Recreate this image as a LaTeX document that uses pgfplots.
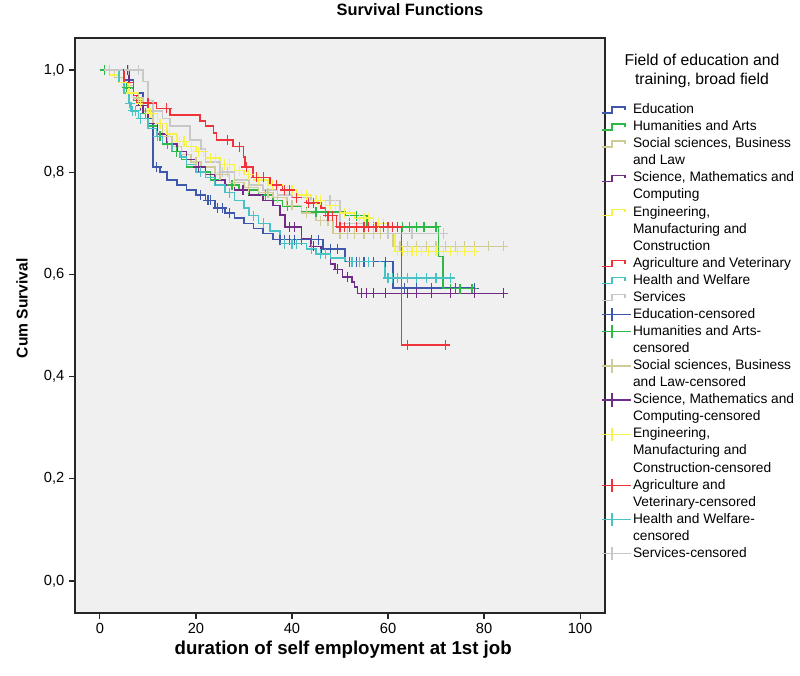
\documentclass[border=0pt]{standalone}
\usepackage{fontspec}
\setmainfont{Liberation Sans}
\usepackage{pgfplots}
\pgfplotsset{compat=1.18}
\definecolor{bgc}{HTML}{F0F0F0}
\definecolor{cEdu}{HTML}{3E58AC}
\definecolor{cHum}{HTML}{2EB848}
\definecolor{cSoc}{HTML}{D0CC98}
\definecolor{cSci}{HTML}{722C88}
\definecolor{cEng}{HTML}{F8F34A}
\definecolor{cAgr}{HTML}{EF3338}
\definecolor{cHea}{HTML}{48C2C5}
\definecolor{cSer}{HTML}{C8C8C8}
\newcommand{\more}[1]{\addlegendimage{empty legend}\addlegendentry{#1}}
\pgfplotsset{
  curve/.style={const plot, color=#1, line width=1.1pt, no marks,
    legend image code/.code={\draw[color=#1, line width=1pt] (0pt,-2.25pt)--(7.5pt,-2.25pt)--(7.5pt,2.25pt)--(17.25pt,2.25pt)--(17.25pt,0pt);}},
  cens/.style={only marks, mark=+, color=#1, mark size=3.8pt, mark options={line width=0.9pt},
    legend image code/.code={\draw[color=#1, line width=1pt] (0pt,0pt)--(22pt,0pt) (7.5pt,-5pt)--(7.5pt,5pt);}},
}
\begin{document}
\begin{tikzpicture}
\useasboundingbox (0,0) rectangle (600pt,506.25pt);
\begin{axis}[
  at={(56.25pt,46.5pt)}, anchor=south west,
  scale only axis, width=397.5pt, height=431.25pt,
  xmin=-5.2, xmax=105.2, ymin=-0.0626, ymax=1.0626,
  axis background/.style={fill=bgc},
  axis line style={line width=0.8pt, black!85},
  xtick={0,20,40,60,80,100}, ytick={0,0.2,0.4,0.6,0.8,1},
  tick align=outside, major tick length=4.5pt,
  tick style={line width=0.8pt, black!85},
  xtick pos=left, ytick pos=left,
  ticklabel style={font=\fontsize{11}{13}\selectfont},
  xticklabel style={/pgf/number format/assume math mode=true},
  yticklabel style={/pgf/number format/.cd, fixed, fixed zerofill, precision=1, use comma, assume math mode=true},
  title={Survival Functions},
  title style={font=\bfseries\fontsize{12.3}{14}\selectfont, at={(axis description cs:0.632,1.035)}, anchor=center},
  xlabel={duration of self employment at 1st job},
  xlabel style={font=\bfseries\fontsize{14}{16}\selectfont, at={(axis description cs:0.506,-0.064)}, anchor=center},
  ylabel={Cum Survival},
  ylabel style={font=\bfseries\fontsize{11.7}{14}\selectfont, at={(axis description cs:-0.1,0.53)}, anchor=center, rotate=0},
  legend cell align=left,
  legend style={at={(axis description cs:0.985,0.8948)}, anchor=north west, draw=none, fill=none,
    font=\fontsize{10.3}{12}\selectfont, row sep=0pt,
    nodes={text height=7.9pt, text depth=2.4pt, inner ysep=1.25pt, inner xsep=0.8pt}},
]
% curves
\addplot[curve=cEdu] coordinates {(0,1)(5,0.98)(7,0.955)(9,0.93)(10,0.905)(11,0.81)(12.5,0.80)(14,0.785)(16,0.775)(18,0.765)(20,0.755)(22,0.745)(24,0.73)(26,0.72)(28,0.71)(30,0.70)(32,0.69)(34,0.68)(36,0.668)(46.5,0.65)(51,0.625)(61,0.573)(78,0.573)};
\addlegendentry{Education}
\addplot[curve=cHum] coordinates {(0,1)(3,0.985)(5,0.965)(7,0.94)(9,0.915)(10,0.89)(12,0.87)(13,0.855)(15,0.84)(17,0.825)(18,0.81)(20,0.80)(23,0.785)(26,0.775)(29,0.765)(33,0.755)(36,0.745)(38,0.733)(42,0.722)(51,0.715)(55.6,0.693)(70.5,0.635)(71.5,0.572)(77.5,0.572)};
\addlegendentry{Humanities and Arts}
\addplot[curve=cSoc] coordinates {(0,1)(3,0.985)(5,0.97)(7,0.945)(9,0.92)(11,0.895)(13,0.87)(15,0.85)(17,0.835)(19,0.82)(21,0.81)(24,0.795)(27,0.78)(30,0.77)(33,0.76)(36,0.75)(39,0.735)(42,0.72)(45,0.705)(48.5,0.68)(61,0.655)(84,0.655)};
\addlegendentry{Social sciences, Business}
\more{and Law}
\addplot[curve=cSci] coordinates {(0,1)(6,0.975)(7,0.95)(8,0.93)(9,0.915)(10,0.895)(12,0.875)(14,0.855)(16,0.84)(18,0.825)(20,0.81)(22,0.795)(24,0.785)(26,0.775)(28,0.765)(31,0.755)(34,0.745)(36,0.735)(37.5,0.716)(38.5,0.693)(42,0.67)(44,0.655)(46,0.64)(48,0.62)(49,0.61)(50.5,0.595)(52.5,0.585)(53,0.575)(53.7,0.563)(84,0.563)};
\addlegendentry{Science, Mathematics and}
\more{Computing}
\addplot[curve=cEng] coordinates {(0,1)(2,0.99)(4,0.975)(6,0.955)(8,0.935)(10,0.915)(12,0.895)(14,0.875)(16,0.86)(18,0.85)(20,0.84)(22,0.828)(25,0.815)(28,0.803)(30,0.795)(32,0.785)(35,0.775)(38,0.765)(41,0.755)(44,0.745)(47,0.735)(50,0.72)(53,0.71)(57,0.70)(60,0.68)(61.5,0.645)(78,0.645)};
\addlegendentry{Engineering,}
\more{Manufacturing and}
\more{Construction}
\addplot[curve=cAgr] coordinates {(0,1)(5,0.975)(7,0.95)(7.6,0.935)(11.8,0.925)(14.6,0.912)(20.8,0.90)(22,0.89)(23.6,0.877)(24.3,0.863)(27.7,0.85)(29.9,0.83)(30.2,0.81)(31.9,0.79)(35.4,0.775)(38,0.765)(40,0.75)(43,0.74)(46,0.73)(47,0.715)(49.3,0.693)(62.8,0.462)(71.9,0.462)};
\addlegendentry{Agriculture and Veterinary}
\addplot[curve=cHea] coordinates {(0,1)(4,0.975)(5,0.955)(6,0.935)(6.5,0.92)(8,0.905)(10,0.885)(11.8,0.87)(13,0.855)(15,0.84)(16.7,0.83)(18,0.815)(20,0.80)(22,0.79)(24,0.775)(26,0.76)(28,0.745)(30,0.73)(31,0.715)(33,0.70)(35.4,0.685)(37.5,0.66)(43,0.65)(45,0.64)(48,0.632)(51,0.625)(59.4,0.593)(73,0.593)};
\addlegendentry{Health and Welfare}
\addplot[curve=cSer] coordinates {(0,1)(9,0.977)(10,0.94)(11,0.92)(13,0.905)(14.6,0.89)(18.8,0.863)(21,0.845)(22,0.82)(25,0.80)(28,0.785)(31,0.775)(34,0.765)(37,0.755)(40,0.75)(44,0.745)(50,0.70)(55,0.68)(72,0.68)};
\addlegendentry{Services}
% censored
\addplot[cens=cEdu] coordinates {(11.8,0.81)(21,0.755)(22.5,0.745)(23,0.745)(24.5,0.73)(25.5,0.73)(27,0.72)(37.5,0.668)(38.5,0.668)(39.5,0.668)(40.5,0.668)(42,0.668)(44,0.668)(45.5,0.668)(48,0.65)(49.5,0.65)(52,0.625)(53.5,0.625)(55,0.625)(57,0.625)(59.5,0.625)(63.5,0.573)(66,0.573)(69,0.573)(74,0.573)(78,0.573)};
\addlegendentry{Education-censored}
\addplot[cens=cHum] coordinates {(1,1)(5.5,0.965)(9.5,0.915)(12.5,0.87)(14,0.855)(16,0.84)(21,0.80)(24,0.785)(27.5,0.775)(31,0.765)(34.5,0.755)(39,0.733)(43,0.722)(45,0.722)(47,0.722)(52,0.715)(53.5,0.715)(57,0.693)(59,0.693)(63,0.693)(64.5,0.693)(66,0.693)(67.5,0.693)(70,0.693)(73,0.572)(75,0.572)(77.5,0.572)};
\addlegendentry{Humanities and Arts-}
\more{censored}
\addplot[cens=cSoc] coordinates {(8,0.945)(14,0.87)(20,0.82)(25,0.795)(28,0.78)(31,0.77)(35,0.76)(37,0.75)(40,0.735)(43,0.72)(46,0.705)(47.5,0.705)(50,0.68)(51.5,0.68)(53,0.68)(55,0.68)(57,0.68)(58.5,0.68)(60,0.68)(62.5,0.655)(64,0.655)(66,0.655)(68,0.655)(70,0.655)(72,0.655)(74,0.655)(76,0.655)(78,0.655)(81,0.655)(84,0.655)};
\addlegendentry{Social sciences, Business}
\more{and Law-censored}
\addplot[cens=cSci] coordinates {(5.8,1)(8.5,0.93)(20.5,0.81)(29.8,0.765)(39.5,0.693)(40.5,0.693)(44.5,0.655)(49.5,0.61)(51.5,0.595)(54.5,0.563)(55.5,0.563)(57,0.563)(59.5,0.563)(64,0.563)(66,0.563)(69,0.563)(73,0.563)(78,0.563)(84,0.563)};
\addlegendentry{Science, Mathematics and}
\more{Computing-censored}
\addplot[cens=cEng] coordinates {(4.5,0.975)(6.5,0.955)(8.5,0.935)(10.5,0.915)(12.5,0.895)(14.5,0.875)(16.5,0.86)(17.5,0.86)(19,0.85)(20.5,0.84)(21.5,0.84)(23,0.828)(24,0.828)(26,0.815)(27,0.815)(29,0.803)(31,0.795)(33,0.785)(34,0.785)(36,0.775)(37,0.775)(39,0.765)(40,0.765)(42,0.755)(43,0.755)(45,0.745)(46,0.745)(48,0.735)(49,0.735)(51,0.72)(52,0.72)(54,0.71)(55,0.71)(56,0.71)(58,0.70)(59,0.70)(62,0.645)(63,0.645)(64,0.645)(65,0.645)(66,0.645)(67,0.645)(68.5,0.645)(70,0.645)(71.5,0.645)(73,0.645)(74.5,0.645)(76,0.645)(78,0.645)};
\addlegendentry{Engineering,}
\more{Manufacturing and}
\more{Construction-censored}
\addplot[cens=cAgr] coordinates {(10,0.935)(13.9,0.925)(26.5,0.863)(29,0.85)(30.5,0.81)(32.6,0.79)(34,0.79)(36.8,0.775)(38.5,0.765)(39.5,0.765)(41,0.75)(43.5,0.74)(44.5,0.74)(47.5,0.715)(48.5,0.715)(50,0.693)(51,0.693)(52,0.693)(53.5,0.693)(55,0.693)(56,0.693)(57.5,0.693)(59,0.693)(60,0.693)(61,0.693)(62,0.693)(64,0.462)(71.9,0.462)};
\addlegendentry{Agriculture and}
\more{Veterinary-censored}
\addplot[cens=cHea] coordinates {(6.2,0.935)(6.8,0.92)(7.4,0.92)(8.5,0.905)(12,0.87)(21,0.80)(27,0.76)(32,0.715)(34,0.70)(38.5,0.66)(40,0.66)(41,0.66)(44,0.65)(46,0.64)(47,0.64)(52.5,0.625)(54,0.625)(56,0.625)(60,0.593)(61,0.593)(62,0.593)(64,0.593)(66,0.593)(68,0.593)(70,0.593)(73,0.593)};
\addlegendentry{Health and Welfare-}
\more{censored}
\addplot[cens=cSer] coordinates {(2,1)(6,1)(8,1)(25.5,0.80)(26.5,0.80)(47.9,0.745)(60,0.68)(65,0.68)(71.5,0.68)};
\addlegendentry{Services-censored}
\end{axis}
\node[align=center, font=\fontsize{11.8}{13.7}\selectfont] at (526.5pt,453pt) {Field of education and\\training, broad field};
\end{tikzpicture}
\end{document}
